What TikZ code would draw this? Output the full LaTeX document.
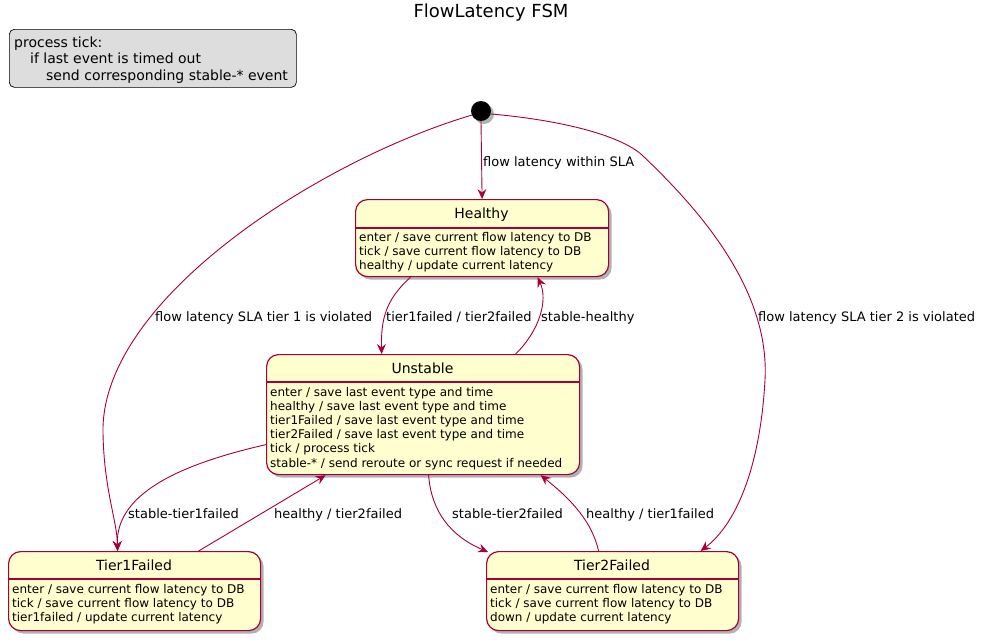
\documentclass[tikz,border=0pt]{standalone}
\usepackage{fontspec}
\setmainfont{DejaVu Sans}
\usetikzlibrary{arrows.meta,shadows}
\definecolor{pborder}{HTML}{A80036}
\definecolor{pfill}{HTML}{FEFECE}
\definecolor{pnote}{HTML}{DDDDDD}
\tikzset{
  statebox/.style={draw=pborder, fill=pfill, line width=1.2pt, rounded corners=12pt, anchor=north west, inner sep=0pt,
    drop shadow={shadow xshift=3pt, shadow yshift=-3pt, opacity=0.3, fill=black}},
  sep/.style={draw=pborder, line width=1.1pt},
  stitle/.style={font=\fontsize{14}{16}\selectfont, anchor=base, inner sep=0pt},
  sbody/.style={font=\fontsize{12}{14.2}\selectfont, anchor=base west, align=left, inner sep=0pt},
  elabel/.style={font=\fontsize{13}{15}\selectfont, anchor=base west, inner sep=0pt},
  trans/.style={draw=pborder, line width=0.9pt, -{Stealth[length=10pt, width=9pt, inset=3.5pt]}},
}
\begin{document}
\begin{tikzpicture}[x=1pt, y=-1pt]
\useasboundingbox (0,0) rectangle (982,643);

% title
\node[font=\fontsize{18}{20}\selectfont, anchor=base, inner sep=0pt] (title) at (491,17) {FlowLatency FSM};

% note
\node[draw=black, fill=pnote, rounded corners=5pt, line width=0.7pt, anchor=north west, inner sep=0pt,
      minimum width=287pt, minimum height=58pt] (note) at (9,29) {};
\node[font=\fontsize{14}{16.5}\selectfont, anchor=base west, align=left, inner sep=0pt] (notetext) at (14,80)
  {process tick:\\\hspace*{16pt}if last event is timed out\\\hspace*{32pt}send corresponding stable-* event};

% initial state
\node[circle, fill=black, minimum size=20pt, inner sep=0pt,
      drop shadow={shadow xshift=3pt, shadow yshift=-3pt, opacity=0.3, fill=black}] (init) at (481,111) {};

% Healthy
\node[statebox, minimum width=253pt, minimum height=77pt] (healthy) at (355,199) {};
\draw[sep] (355,228) -- (608,228);
\node[stitle] (healthyt) at (481.5,218) {Healthy};
\node[sbody] (healthyb) at (359,269.4) {enter / save current flow latency to DB\\tick / save current flow latency to DB\\healthy / update current latency};

% Unstable
\node[statebox, minimum width=313pt, minimum height=120pt] (unstable) at (266,354) {};
\draw[sep] (266,382) -- (579,382);
\node[stitle] (unstablet) at (422.5,373) {Unstable};
\node[sbody] (unstableb) at (270,467) {enter / save last event type and time\\healthy / save last event type and time\\tier1Failed / save last event type and time\\tier2Failed / save last event type and time\\tick / process tick\\stable-* / send reroute or sync request if needed};

% Tier1Failed
\node[statebox, minimum width=252pt, minimum height=79pt] (tierone) at (8,551) {};
\draw[sep] (8,579) -- (260,579);
\node[stitle] (tieronet) at (134,570) {Tier1Failed};
\node[sbody] (tieroneb) at (12,621.4) {enter / save current flow latency to DB\\tick / save current flow latency to DB\\tier1failed / update current latency};

% Tier2Failed
\node[statebox, minimum width=252pt, minimum height=79pt] (tiertwo) at (486,551) {};
\draw[sep] (486,579) -- (738,579);
\node[stitle] (tiertwot) at (612,570) {Tier2Failed};
\node[sbody] (tiertwob) at (490,621.4) {enter / save current flow latency to DB\\tick / save current flow latency to DB\\down / update current latency};

% transitions
\draw[trans] (init.south) -- (healthy.north);
\node[elabel] (l1) at (483,166) {flow latency within SLA};

\draw[trans] (init.204) .. controls (320,160) and (100,300) .. (103,433)
   .. controls (104,490) and (117,520) .. ([xshift=-17pt]tierone.north);
\node[elabel] (l2) at (155,321) {flow latency SLA tier 1 is violated};

\draw[trans] (init.-17) .. controls (560,120) and (620,135) .. (642,155)
   .. controls (700,210) and (770,290) .. (765,380)
   .. controls (760,470) and (735,525) .. ([xshift=88pt]tiertwo.north);
\node[elabel] (l3) at (758,321) {flow latency SLA tier 2 is violated};

\draw[trans] ([xshift=-71.5pt]healthy.south) .. controls (385,300) and (381,320) .. ([xshift=-41.5pt]unstable.north);
\node[elabel] (l4) at (386,321) {tier1failed / tier2failed};

\draw[trans] ([xshift=92.5pt]unstable.north) .. controls (540,330) and (548,300) .. ([xshift=55.5pt]healthy.south);
\node[elabel] (l5) at (541,321) {stable-healthy};

\draw[trans] ([yshift=-30pt]unstable.west) .. controls (190,462) and (115,490) .. ([xshift=-17pt]tierone.north);
\node[elabel] (l6) at (128,518) {stable-tier1failed};

\draw[trans] ([xshift=64pt]tierone.north) -- ([xshift=-97.5pt]unstable.south);
\node[elabel] (l7) at (274,518) {healthy / tier2failed};

\draw[trans] ([xshift=5.5pt]unstable.south) .. controls (432,520) and (460,540) .. ([xshift=2pt,yshift=-1pt]tiertwo.north west);
\node[elabel] (l8) at (452,518) {stable-tier2failed};

\draw[trans] ([xshift=-14pt]tiertwo.north) .. controls (592,522) and (572,500) .. ([xshift=117.5pt]unstable.south);
\node[elabel] (l9) at (586,518) {healthy / tier1failed};
\end{tikzpicture}
\end{document}
